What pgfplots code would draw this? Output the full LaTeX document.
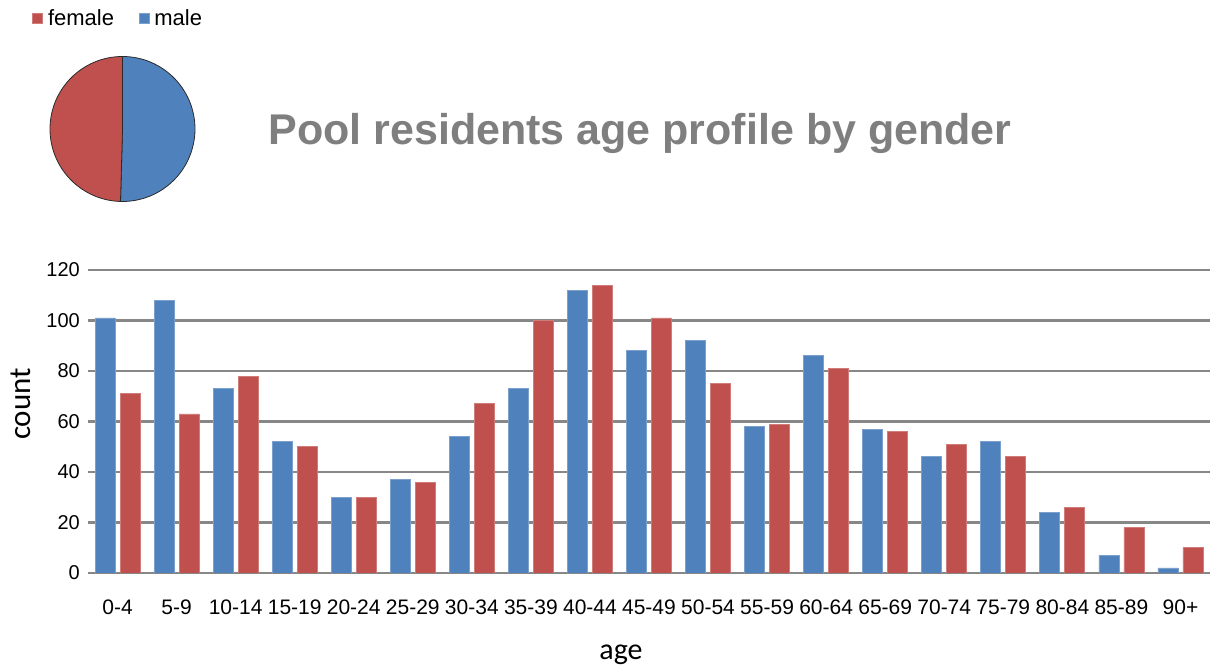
\documentclass[border=0pt]{standalone}
\usepackage{fontspec}
\setmainfont{Liberation Sans}
\newfontfamily\calibri{Carlito}
\usepackage{pgfplots}
\usepackage{pgfplotstable}
\pgfplotsset{compat=1.18}
\definecolor{mblue}{HTML}{4F81BD}
\definecolor{fred}{HTML}{C0504D}
\definecolor{gridgray}{HTML}{878787}
\definecolor{titlegray}{HTML}{7F7F7F}
\definecolor{pieedge}{HTML}{2A2A2A}

\pgfplotstableread{
x male female
0 101 71
1 108 63
2 73 78
3 52 50
4 30 30
5 37 36
6 54 67
7 73 100
8 112 114
9 88 101
10 92 75
11 58 59
12 86 81
13 57 56
14 46 51
15 52 46
16 24 26
17 7 18
18 2 10
}\agedata

% totals (pie): male 1152, female 1132
\def\maletotal{1152}
\def\femaletotal{1132}

\begin{document}
\begin{tikzpicture}[x=1pt,y=1pt]
\useasboundingbox (0,0) rectangle (1216,669);
\begin{axis}[
 at={(88pt,96pt)}, anchor=south west, scale only axis,
 width=1122pt, height=303pt,
 xmin=-0.5, xmax=18.5, ymin=0, ymax=120,
 ytick={0,20,...,120}, xtick={0,...,18},
 xticklabels={0-4,5-9,10-14,15-19,20-24,25-29,30-34,35-39,40-44,45-49,50-54,55-59,60-64,65-69,70-74,75-79,80-84,85-89,90+},
 axis x line*=bottom, axis y line*=left,
 x axis line style={gridgray, line width=2.2pt, -},
 y axis line style={draw=none},
 major tick length=0pt,
 ymajorgrids, grid style={gridgray, line width=2.2pt},
 /pgf/number format/assume math mode=true,
 yticklabel style={anchor=east, inner sep=0pt, xshift=-8pt, font=\fontsize{20}{24}\selectfont},
 xticklabel style={anchor=north, inner sep=0pt, text height=15pt, yshift=-26pt, font=\fontsize{21}{24}\selectfont},
 legend columns=2,
 legend image code/.code={\fill[#1] (0pt,-5pt) rectangle (10pt,5pt);},
 legend style={draw=none, fill=none, inner sep=0pt, at={(axis description cs:-0.0499,1.8317)}, anchor=west,
   font=\fontsize{22}{24}\selectfont,
   nodes={inner sep=2.5pt},
   /tikz/every odd column/.append style={column sep=2.5pt},
   /tikz/every even column/.append style={column sep=22pt}},
]
\addplot[ybar, bar width=20pt, bar shift=12.5pt, fill=fred, draw=fred!75!white, line width=0.8pt] table[x=x,y=female]{\agedata};
\addplot[ybar, bar width=20pt, bar shift=-12.5pt, fill=mblue, draw=mblue!75!white, line width=0.8pt] table[x=x,y=male]{\agedata};
\legend{female,male}
\end{axis}

\pgfmathsetmacro\piefrac{\maletotal/(\maletotal+\femaletotal)}
\pgfmathsetmacro\pieang{90-360*\piefrac}
\pgfmathsetmacro\pieangb{\pieang+360}
\begin{axis}[at={(122.5pt,540pt)}, anchor=center, scale only axis,
 width=145pt, height=145pt, hide axis,
 xmin=-1, xmax=1, ymin=-1, ymax=1, clip=false]
\filldraw[fill=mblue, draw=pieedge, line width=0.8pt] (axis cs:0,0) -- (axis cs:0,1) arc[start angle=90, end angle=\pieang, radius=72.5pt] -- cycle;
\filldraw[fill=fred, draw=pieedge, line width=0.8pt] (axis cs:0,0) -- (axis cs:0,1) arc[start angle=90, end angle=\pieangb, radius=72.5pt] -- cycle;
\end{axis}

\node[anchor=base, font=\bfseries\fontsize{43}{50}\selectfont, text=titlegray] at (640,524) {Pool residents age profile by gender};
\node[rotate=90, anchor=base, font=\calibri\fontsize{31}{36}\selectfont] at (30,265) {count};
\node[anchor=base, font=\calibri\fontsize{30}{36}\selectfont] at (621,9) {age};
\end{tikzpicture}
\end{document}
